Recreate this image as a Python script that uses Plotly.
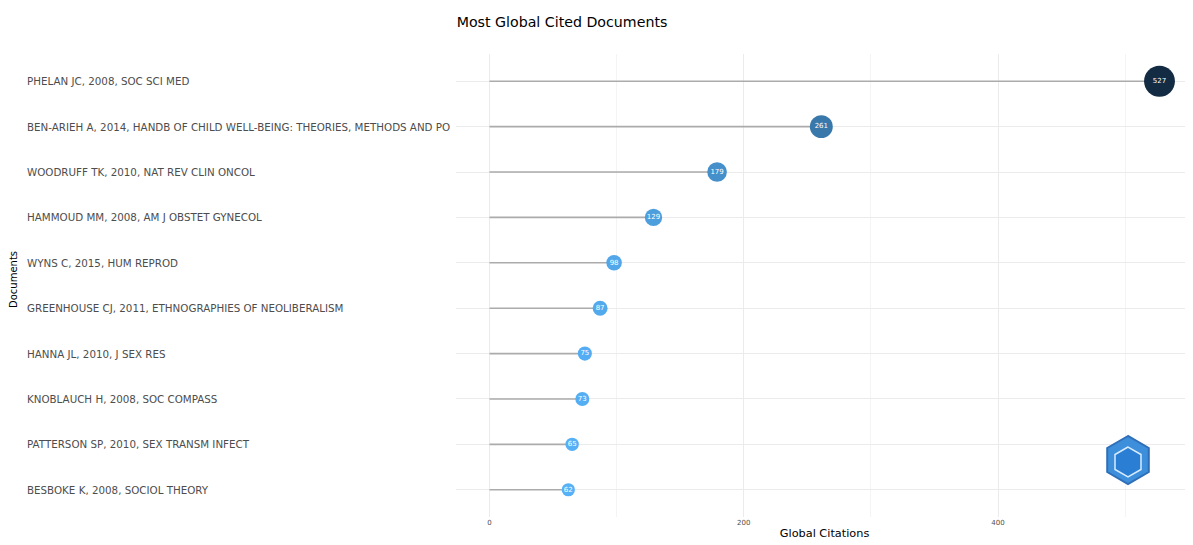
import math
import plotly.graph_objects as go

documents = [
    "PHELAN JC, 2008, SOC SCI MED",
    "BEN-ARIEH A, 2014, HANDB OF CHILD WELL-BEING: THEORIES, METHODS AND PO",
    "WOODRUFF TK, 2010, NAT REV CLIN ONCOL",
    "HAMMOUD MM, 2008, AM J OBSTET GYNECOL",
    "WYNS C, 2015, HUM REPROD",
    "GREENHOUSE CJ, 2011, ETHNOGRAPHIES OF NEOLIBERALISM",
    "HANNA JL, 2010, J SEX RES",
    "KNOBLAUCH H, 2008, SOC COMPASS",
    "PATTERSON SP, 2010, SEX TRANSM INFECT",
    "BESBOKE K, 2008, SOCIOL THEORY",
]
citations = [527, 261, 179, 129, 98, 87, 75, 73, 65, 62]
x_ticks = [0, 200, 400]

order = list(reversed(documents))  # bottom to top

# page offset (body margin of the html page)
OFF = 8
W, H = 1193 - OFF, 545 - OFF
L, R, T, B = 456 - OFF, 0, 54 - OFF, 28
PW, PH = W - L - R, H - T - B

def px_to_paper_x(px):
    return ((px - OFF) - L) / PW

def py_to_paper_y(py):
    return 1 - ((py - OFF) - T) / PH

FONT = "DejaVu Sans"

fig = go.Figure()

# stems
seg_x, seg_y = [], []
for d, c in zip(documents, citations):
    seg_x += [0, c, None]
    seg_y += [d, d, None]
fig.add_trace(go.Scatter(
    x=seg_x, y=seg_y, mode="lines",
    line=dict(color="#ababab", width=1.6),
    hoverinfo="skip", showlegend=False,
))

sizes = [4.0 + 1.17 * (c ** 0.5) for c in citations]
fig.add_trace(go.Scatter(
    x=citations, y=documents, mode="markers+text",
    marker=dict(size=sizes, color=citations,
                colorscale=[[0, "#56B1F7"], [1, "#132B43"]],
                cmin=min(citations), cmax=max(citations),
                line=dict(width=0), opacity=1),
    text=[str(c) for c in citations],
    textposition="middle center",
    textfont=dict(color="white", size=7, family=FONT),
    showlegend=False,
))

# left-aligned document labels
for d in documents:
    fig.add_annotation(
        x=px_to_paper_x(25), xref="paper", y=d, yref="y",
        text=d, showarrow=False, xanchor="left", yanchor="middle",
        font=dict(size=10.3, color="#4d4d4d", family=FONT),
    )

fig.add_annotation(
    x=px_to_paper_x(13), xref="paper", y=py_to_paper_y(279), yref="paper",
    text="Documents", textangle=-90, showarrow=False,
    xanchor="center", yanchor="middle",
    font=dict(size=10, color="#000000", family=FONT),
)

fig.update_layout(
    width=W, height=H,
    margin=dict(l=L, r=R, t=T, b=B, pad=0),
    paper_bgcolor="white", plot_bgcolor="white",
    title=dict(text="Most Global Cited Documents", x=(562 - OFF) / W, xanchor="center",
               y=1 - (22 - OFF) / H, yanchor="middle",
               font=dict(size=14.2, color="#000000", family=FONT)),
    xaxis=dict(
        range=[-26.35, 553.35], tickvals=x_ticks, ticktext=[str(t) for t in x_ticks],
        showgrid=True, gridcolor="#ebebeb", gridwidth=1.2,
        minor=dict(tickvals=[100, 300, 500], showgrid=True, gridcolor="#f4f4f4", gridwidth=0.8),
        zeroline=False, showline=False, ticks="",
        tickfont=dict(size=7, color="#4d4d4d", family=FONT),
        title=dict(text="Global Citations", standoff=3,
                   font=dict(size=11.3, color="#000000", family=FONT)),
        automargin=False,
    ),
    yaxis=dict(
        type="category", categoryorder="array", categoryarray=order,
        range=[-0.6, 9.6], showticklabels=False,
        showgrid=True, gridcolor="#ebebeb", gridwidth=1.2,
        zeroline=False, showline=False, ticks="", automargin=False,
    ),
)

# logo-like hexagon badge (decorative)
def hexagon(cx, cy, r):
    pts = []
    for k in range(6):
        a = math.radians(90 + 60 * k)
        pts.append((px_to_paper_x(cx + r * math.cos(a)), py_to_paper_y(cy - r * math.sin(a))))
    return "M " + " L ".join(f"{x},{y}" for x, y in pts) + " Z"

fig.add_shape(type="path", path=hexagon(1128, 460, 24), xref="paper", yref="paper",
              fillcolor="#3d8fdc", line=dict(color="#2f6fb8", width=2))
fig.add_shape(type="path", path=hexagon(1128, 462, 15), xref="paper", yref="paper",
              fillcolor="#2a7fd4", line=dict(color="#d8ecff", width=1.5))

fig.write_html("out.html")
